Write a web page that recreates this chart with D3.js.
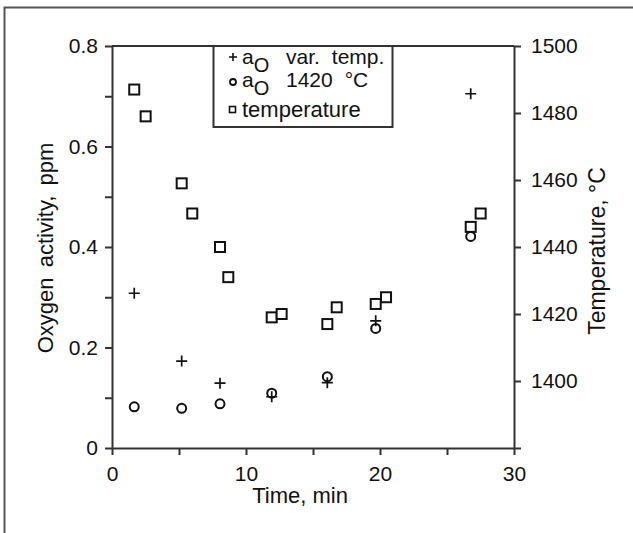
<!DOCTYPE html>
<html>
<head>
<meta charset="utf-8">
<script src="https://cdn.jsdelivr.net/npm/d3@7"></script>
<style>
    body { margin: 0; background: #fff; }
    text { font-family: "Liberation Sans", Arial, sans-serif; fill: #111; }
</style>
</head>
<body>
<div id="chart"></div>
<script>
// temperature series (right axis)
const tempTime = [1.66, 2.51, 5.2, 5.99, 8.06, 8.68, 11.92, 12.66, 16.07, 16.77, 19.68, 20.45, 26.77, 27.51];
const tempValues = [1487, 1479, 1459, 1450, 1440, 1431, 1419, 1420, 1417, 1422, 1423, 1425, 1446, 1450];

// oxygen activity series (left axis)
const oxTime = [1.66, 5.2, 8.06, 11.92, 16.07, 19.68, 26.77];
const oxVarTemp = [0.308, 0.173, 0.129, 0.102, 0.130, 0.253, 0.705];
const ox1420 = [0.082, 0.079, 0.088, 0.109, 0.142, 0.238, 0.421];

// ticks
const xTickValues = [0, 5, 10, 15, 20, 25, 30];
const xTickLabels = ["0", "", "10", "", "20", "", "30"];
const yTickValues = [0, 0.1, 0.2, 0.3, 0.4, 0.5, 0.6, 0.7, 0.8];
const yTickLabels = ["0", "", "0.2", "", "0.4", "", "0.6", "", "0.8"];
const tTickValues = [1380, 1400, 1420, 1440, 1460, 1480, 1500];
const tTickLabels = ["", "1400", "1420", "1440", "1460", "1480", "1500"];

const W = 633, H = 533;
const margin = { top: 46, right: 119, bottom: 85, left: 112 },
    width = W - margin.left - margin.right,
    height = H - margin.top - margin.bottom;

const svg = d3.select("#chart")
    .append("svg")
    .attr("width", W)
    .attr("height", H);

// outer frame (top and left only)
svg.append("path")
    .attr("d", `M4.5,${H} L4.5,7.5 L${W},7.5`)
    .attr("fill", "none")
    .attr("stroke", "#555")
    .attr("stroke-width", 2);

const g = svg.append("g")
    .attr("transform", `translate(${margin.left},${margin.top})`);

const x = d3.scaleLinear().domain([0, 30]).range([0, width]);
const y = d3.scaleLinear().domain([0, 0.8]).range([height, 0]);
const yT = d3.scaleLinear().domain([1380, 1500]).range([height, 0]);

const styleAxis = sel => {
    sel.selectAll("path, line").attr("stroke", "#333").attr("stroke-width", 2);
    sel.selectAll("text").style("font-size", "21px").attr("fill", "#111");
};

g.append("g")
    .attr("transform", `translate(0,${height})`)
    .call(d3.axisBottom(x).tickValues(xTickValues).tickSize(7).tickSizeOuter(0).tickPadding(11)
        .tickFormat((d, i) => xTickLabels[i]))
    .call(styleAxis);

g.append("g")
    .call(d3.axisLeft(y).tickValues(yTickValues).tickSize(7).tickSizeOuter(0).tickPadding(7)
        .tickFormat((d, i) => yTickLabels[i]))
    .call(styleAxis);

g.append("g")
    .attr("transform", `translate(${width},0)`)
    .call(d3.axisRight(yT).tickValues(tTickValues).tickSize(7).tickSizeOuter(0).tickPadding(10)
        .tickFormat((d, i) => tTickLabels[i]))
    .call(styleAxis);

// top border of the plot
g.append("line")
    .attr("x1", x(0)).attr("x2", x(30))
    .attr("y1", 0).attr("y2", 0)
    .attr("stroke", "#333").attr("stroke-width", 2);

// axis titles
g.append("text")
    .attr("transform", `translate(${width / 2 - 13},${height + 55})`)
    .attr("text-anchor", "middle")
    .style("font-size", "22px")
    .text("Time, min");

g.append("text")
    .attr("transform", `translate(${-59},${height / 2 + 1}) rotate(-90)`)
    .attr("text-anchor", "middle")
    .style("font-size", "22px")
    .style("word-spacing", "4px")
    .text("Oxygen activity, ppm");

g.append("text")
    .attr("transform", `translate(${width + 91},${height / 2 + 4}) rotate(-90)`)
    .attr("text-anchor", "middle")
    .style("font-size", "23px")
    .text("Temperature, °C");

// markers
const plusPath = s => `M${-s},0H${s}M0,${-s}V${s}`;

g.selectAll("rect.temp")
    .data(tempTime)
    .join("rect")
    .attr("class", "temp")
    .attr("x", d => x(d) - 5)
    .attr("y", (d, i) => yT(tempValues[i]) - 5)
    .attr("width", 10)
    .attr("height", 10)
    .attr("fill", "#fff")
    .attr("stroke", "#111")
    .attr("stroke-width", 2);

g.selectAll("circle.ox1420")
    .data(oxTime)
    .join("circle")
    .attr("class", "ox1420")
    .attr("cx", d => x(d))
    .attr("cy", (d, i) => y(ox1420[i]))
    .attr("r", 4.5)
    .attr("fill", "none")
    .attr("stroke", "#111")
    .attr("stroke-width", 2);

g.selectAll("path.oxvar")
    .data(oxTime)
    .join("path")
    .attr("class", "oxvar")
    .attr("transform", (d, i) => `translate(${x(d)},${y(oxVarTemp[i])})`)
    .attr("d", plusPath(5.5))
    .attr("stroke", "#111")
    .attr("stroke-width", 1.7);

// legend
const legend = svg.append("g");
legend.append("rect")
    .attr("x", 213.5).attr("y", 46)
    .attr("width", 179).attr("height", 81)
    .attr("fill", "#fff")
    .attr("stroke", "#333")
    .attr("stroke-width", 2);

legend.append("path")
    .attr("transform", "translate(233,57)")
    .attr("d", plusPath(4))
    .attr("stroke", "#111").attr("stroke-width", 1.6);
legend.append("circle")
    .attr("cx", 233).attr("cy", 82).attr("r", 3)
    .attr("fill", "none").attr("stroke", "#111").attr("stroke-width", 1.8);
legend.append("rect")
    .attr("x", 229.5).attr("y", 106.5).attr("width", 6).attr("height", 6)
    .attr("fill", "none").attr("stroke", "#111").attr("stroke-width", 1.6);

const legendRows = [
    { y: 64, rest: ["var.", "temp."] },
    { y: 87, rest: ["1420", "°C"] }
];
legendRows.forEach(r => {
    const t = legend.append("text").attr("y", r.y).style("font-size", "21px");
    t.append("tspan").attr("x", 242).text("a");
    t.append("tspan").attr("dx", 0).attr("dy", 8).style("font-size", "20px").text("O");
    t.append("tspan").attr("x", 286).attr("y", r.y).text(r.rest[0]);
    t.append("tspan").attr("dx", 12).text(r.rest[1]);
});
legend.append("text")
    .attr("x", 242).attr("y", 117)
    .style("font-size", "22px")
    .text("temperature");
</script>
</body>
</html>
